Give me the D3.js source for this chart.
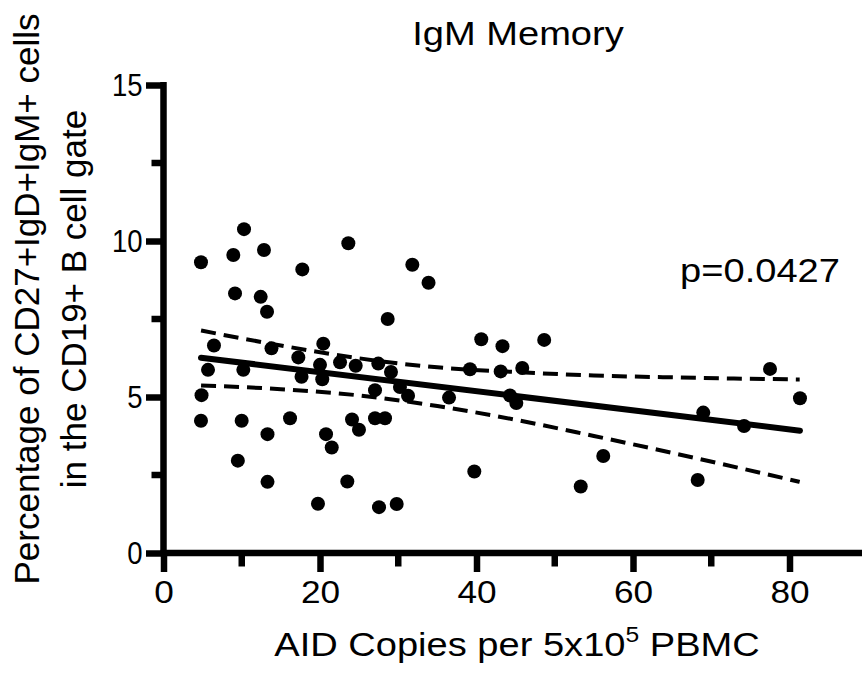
<!DOCTYPE html>
<meta charset="utf-8">
<script src="https://d3js.org/d3.v7.min.js"></script>
<style>
	body{
		margin:0;
		background:#fff;
		font-family: 'Liberation Sans', Arial, sans-serif;
	}
</style>
<div id="chart"></div>
<script>

// AID copies (x) and % IgM memory cells (y)
var aidCopies = [4.79,8.92,10.29,12.84,17.74,9.14,12.42,13.23,23.62,31.8,33.87,28.65,40.61,43.32,48.65,
	6.45,13.8,20.42,17.23,20.0,22.56,24.56,27.45,29.07,5.69,10.2,17.64,20.29,27.03,30.22,31.25,36.49,
	39.17,43.09,45.85,44.28,45.09,4.86,4.79,9.99,16.17,13.29,20.77,21.5,24.09,24.98,27.03,28.31,
	9.5,13.29,23.49,19.74,27.54,29.8,39.72,56.2,53.32,68.27,68.98,74.19,77.51,81.34]
var igmPct = [9.32,9.55,10.38,9.71,9.09,8.32,8.21,7.73,9.93,9.24,8.66,7.5,6.85,6.63,6.83,
	6.65,6.56,6.71,6.27,6.03,6.11,6.0,6.07,5.8,5.87,5.87,5.65,5.57,5.22,5.32,5.04,4.98,
	5.89,5.82,5.93,5.05,4.81,5.06,4.24,4.24,4.32,3.81,3.81,3.38,4.28,3.95,4.32,4.32,
	2.96,2.28,2.29,1.58,1.47,1.57,2.61,3.11,2.13,2.34,4.5,4.07,5.9,4.96]

// fit line and 95% band
var fitX = [4.79,81.34]
var fitY = [6.26,3.92]
var bandX = [4.8,15,25,35,45,55,65,81.3]
var bandUpper = [7.13,6.65,6.24,5.95,5.80,5.69,5.63,5.56]
var bandLower = [5.37,5.25,5.05,4.71,4.27,3.75,3.21,2.28]

var xTicks = [0,20,40,60,80]
var xMinor = [10,30,50,70]
var yTicks = [0,5,10,15]
var yMinor = [2.5,7.5,12.5]

var chartTitle = "IgM Memory"
var pLabel = "p=0.0427"

var w = 862
var h = 683
var wide = 1.12   // horizontal texts look stretched in the original

var svg = d3.select("#chart").append("svg").attr("width",w).attr("height",h)

var x = d3.scaleLinear().domain([0,80]).range([163.5,789.5])
var y = d3.scaleLinear().domain([0,15]).range([553,85])

// axes
var xAxis = svg.append("g").attr("transform","translate(0,"+y(0)+")")
	.call(d3.axisBottom(x).tickValues(xTicks).tickSize(19).tickPadding(8).tickSizeOuter(0))
xAxis.select(".domain").attr("d","M"+(x(0)-3)+",0H"+w)
xAxis.selectAll(".minor").data(xMinor).enter().append("line").attr("class","minor")
	.attr("x1",function(d){return x(d)}).attr("x2",function(d){return x(d)})
	.attr("y1",0).attr("y2",13.5)

var yAxis = svg.append("g").attr("transform","translate("+x(0)+",0)")
	.call(d3.axisLeft(y).tickValues(yTicks).tickSize(17.5).tickPadding(3).tickSizeOuter(0))
yAxis.select(".domain").attr("d","M0,"+(y(0)+3)+"V"+(y(15)-3))
yAxis.selectAll(".minor").data(yMinor).enter().append("line").attr("class","minor")
	.attr("y1",function(d){return y(d)}).attr("y2",function(d){return y(d)})
	.attr("x1",0).attr("x2",-12)

svg.selectAll(".domain, .tick line, .minor").attr("stroke","#000").attr("stroke-width",6.5)
xAxis.selectAll(".tick text").attr("font-size",32).attr("fill","#000")
	.attr("font-family","'Liberation Sans', Arial, sans-serif")
	.attr("transform","scale(1.1,1)")
yAxis.selectAll(".tick text").attr("font-size",32).attr("fill","#000")
	.attr("font-family","'Liberation Sans', Arial, sans-serif")
	.attr("x",-21/0.86).attr("transform","scale(0.86,1)")

// confidence band
var bandLine = d3.line().curve(d3.curveMonotoneX)
	.x(function(d){return x(d[0])}).y(function(d){return y(d[1])})
svg.append("path").datum(bandX.map(function(d,i){return [d,bandUpper[i]]}))
	.attr("d",bandLine).attr("fill","none").attr("stroke","#000")
	.attr("stroke-width",4).attr("stroke-dasharray","15,8")
svg.append("path").datum(bandX.map(function(d,i){return [d,bandLower[i]]}))
	.attr("d",bandLine).attr("fill","none").attr("stroke","#000")
	.attr("stroke-width",4).attr("stroke-dasharray","15,8")

// points
svg.append("g").selectAll("circle").data(aidCopies).join("circle")
	.attr("cx",function(d){return x(d)})
	.attr("cy",function(d,i){return y(igmPct[i])})
	.attr("r",7)
	.attr("fill","#000")

// regression line
svg.append("path").datum(fitX.map(function(d,i){return [d,fitY[i]]}))
	.attr("d",d3.line().x(function(d){return x(d[0])}).y(function(d){return y(d[1])}))
	.attr("stroke","#000").attr("stroke-width",6).attr("stroke-linecap","round").attr("fill","none")

// texts
svg.append("text").text(chartTitle)
	.attr("transform","translate(518,45) scale("+wide+",1)")
	.attr("text-anchor","middle").attr("font-size",34)

svg.append("text").text(pLabel)
	.attr("transform","translate(760,282) scale("+wide+",1)")
	.attr("text-anchor","middle").attr("font-size",34)

var xt = svg.append("text").attr("transform","translate(517,656) scale("+wide+",1)")
	.attr("text-anchor","middle").attr("font-size",34)
xt.append("tspan").text("AID Copies per 5x10")
xt.append("tspan").text("5").attr("font-size",22).attr("dy",-14)
xt.append("tspan").text(" PBMC").attr("dy",14)

var yt = svg.append("text").attr("transform","translate(39,299) rotate(-90)")
	.attr("text-anchor","middle").attr("font-size",35)
yt.append("tspan").text("Percentage of CD27+IgD+IgM+ cells").attr("x",0).attr("y",0)
yt.append("tspan").text("in the CD19+ B cell gate").attr("x",0).attr("y",47)

</script>
